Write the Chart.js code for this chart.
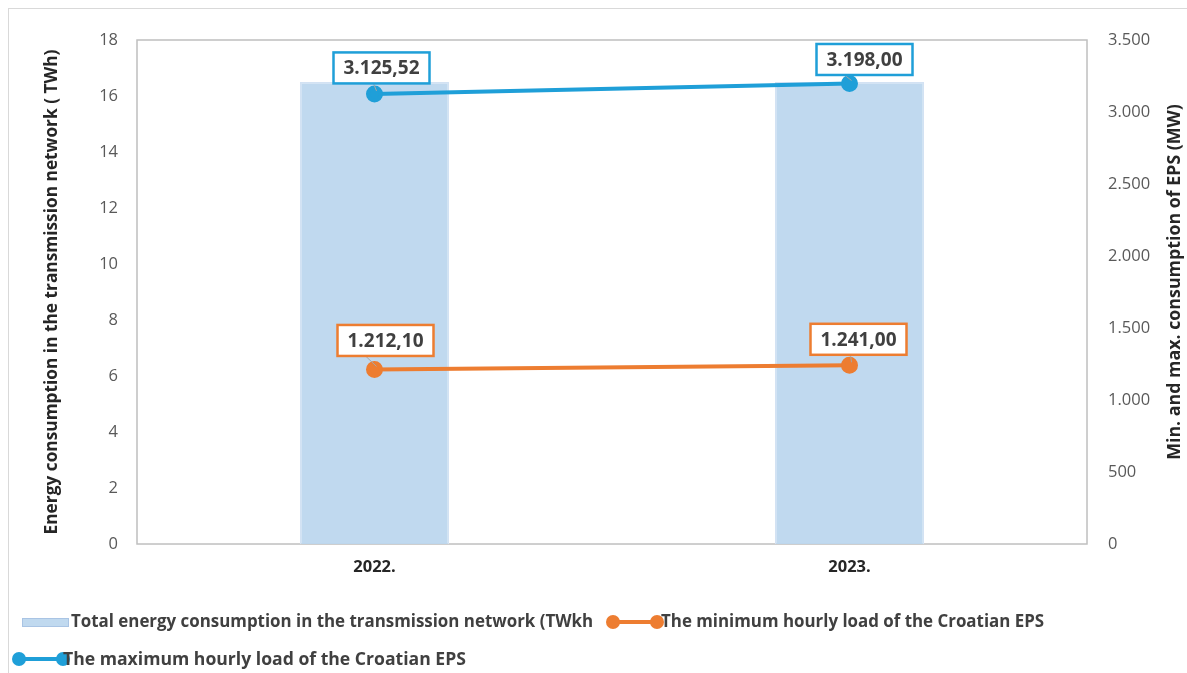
<!DOCTYPE html>
<html>
<head>
<meta charset="utf-8">
<script src="https://cdn.jsdelivr.net/npm/chart.js@4.4.1/dist/chart.umd.min.js"></script>
<style>
  html, body { margin:0; padding:0; background:#fff; }
  #wrap { position:relative; width:1187px; height:673px; overflow:hidden; }
  #frame { position:absolute; left:8px; top:8px; width:1200px; height:700px; border:1px solid #d9d9d9; box-sizing:border-box; }
  canvas { position:absolute; left:0; top:0; }
  .leg { position:absolute; font-family:"Open Sans", sans-serif; font-weight:bold; font-size:16.9px; color:#404040; white-space:nowrap; line-height:22px; }
  .sw { position:absolute; }
</style>
</head>
<body>
<div id="wrap">
  <div id="frame"></div>
  <canvas id="c" width="1187" height="673"></canvas>
  <div id="legend"></div>
</div>
<script>
const categories = ["2022.", "2023."];
const totalEnergy = [16.5, 16.5];
const minLoad = [1212.10, 1241.00];
const maxLoad = [3125.52, 3198.00];
const leftTicks = [0, 2, 4, 6, 8, 10, 12, 14, 16, 18];
const rightTicks = [0, 500, 1000, 1500, 2000, 2500, 3000, 3500];
const seriesNames = [
  "Total energy consumption in the transmission network (TWkh",
  "The minimum hourly load of the Croatian EPS",
  "The maximum hourly load of the Croatian EPS"
];
const leftTitle = "Energy consumption in the transmission network ( TWh)";
const rightTitle = "Min. and max. consumption of EPS (MW)";

const BLUE = "#1f9fd8", ORANGE = "#ed7d31", BAR = "rgba(189,215,238,0.95)";
const FONT = '"Open Sans", sans-serif';

function fmt(v, dec) {
  const s = v.toFixed(dec);
  let [i, d] = s.split(".");
  i = i.replace(/\B(?=(\d{3})+(?!\d))/g, ".");
  return d ? i + "," + d : i;
}

const plotBorder = {
  id: "plotBorder",
  beforeDatasetsDraw(chart) {
    const a = chart.chartArea, ctx = chart.ctx;
    ctx.save();
    ctx.strokeStyle = "#bfbfbf";
    ctx.lineWidth = 1.5;
    ctx.strokeRect(a.left, a.top, a.right - a.left, a.bottom - a.top);
    ctx.restore();
  }
};

const axisTitles = {
  id: "axisTitles",
  afterDraw(chart) {
    const a = chart.chartArea, ctx = chart.ctx;
    const cy = (a.top + a.bottom) / 2;
    ctx.save();
    ctx.fillStyle = "#262626";
    ctx.textAlign = "center";
    ctx.textBaseline = "middle";
    ctx.font = "bold 17.3px " + FONT;
    ctx.translate(a.left - 85, cy);
    ctx.rotate(-Math.PI / 2);
    ctx.fillText(leftTitle, 0, 0);
    ctx.restore();
    ctx.save();
    ctx.fillStyle = "#262626";
    ctx.textAlign = "center";
    ctx.textBaseline = "middle";
    ctx.font = "bold 17.8px " + FONT;
    ctx.translate(a.right + 88, cy - 10);
    ctx.rotate(-Math.PI / 2);
    ctx.fillText(rightTitle, 0, 0);
    ctx.restore();
  }
};

const labelOffsets = { 1: [[11, -29], [9, -26]], 2: [[7, -26], [15, -24]] };
const boxLabels = {
  id: "boxLabels",
  afterDatasetsDraw(chart) {
    const ctx = chart.ctx;
    ctx.save();
    ctx.font = "bold 19px " + FONT;
    ctx.textAlign = "center";
    ctx.textBaseline = "middle";
    [1, 2].forEach(di => {
      const ds = chart.data.datasets[di];
      const meta = chart.getDatasetMeta(di);
      meta.data.forEach((pt, i) => {
        const txt = fmt(ds.data[i], 2);
        const [dx, dy] = labelOffsets[di][i];
        const cx = pt.x + dx, cy = pt.y + dy;
        const w = Math.max(96, ctx.measureText(txt).width + 12), h = 31;
        ctx.strokeStyle = "#a6a6a6";
        ctx.lineWidth = 1;
        ctx.beginPath();
        ctx.moveTo(pt.x + 2, pt.y - 3);
        ctx.lineTo(cx + (dx > 10 ? -20 : -8), cy + h / 2);
        ctx.stroke();
        ctx.fillStyle = "#fff";
        ctx.fillRect(cx - w / 2, cy - h / 2, w, h);
        ctx.lineWidth = 2.5;
        ctx.strokeStyle = ds.borderColor;
        ctx.strokeRect(cx - w / 2, cy - h / 2, w, h);
        ctx.fillStyle = "#404040";
        ctx.fillText(txt, cx, cy + 1);
      });
    });
    ctx.restore();
  }
};

new Chart(document.getElementById("c"), {
  type: "bar",
  data: {
    labels: categories,
    datasets: [
      {
        type: "bar", label: seriesNames[0], data: totalEnergy, yAxisID: "y",
        backgroundColor: BAR, borderColor: "#d3e2f3", borderWidth: 1.5,
        categoryPercentage: 0.314, barPercentage: 1, order: 3
      },
      {
        type: "line", label: seriesNames[1], data: minLoad, yAxisID: "y1",
        borderColor: ORANGE, backgroundColor: ORANGE, borderWidth: 4,
        pointRadius: 6.5, pointHoverRadius: 6.5, order: 1
      },
      {
        type: "line", label: seriesNames[2], data: maxLoad, yAxisID: "y1",
        borderColor: BLUE, backgroundColor: BLUE, borderWidth: 4,
        pointRadius: 6.5, pointHoverRadius: 6.5, order: 2
      }
    ]
  },
  options: {
    responsive: false,
    animation: false,
    devicePixelRatio: 1,
    layout: { padding: { top: 40, left: 0, right: 0, bottom: 0 } },
    plugins: { legend: { display: false }, tooltip: { enabled: false } },
    scales: {
      x: {
        grid: { display: false },
        border: { display: false },
        ticks: { color: "#262626", font: { family: FONT, size: 16.5, weight: "bold" }, padding: 5 },
        afterFit(s) { s.height = 129; }
      },
      y: {
        position: "left", min: 0, max: 18,
        afterBuildTicks(s) { s.ticks = leftTicks.map(v => ({ value: v })); },
        grid: { display: false },
        border: { display: false },
        ticks: { color: "#595959", font: { family: FONT, size: 16.5 }, padding: 11 },
        afterFit(s) { s.width = 137; }
      },
      y1: {
        position: "right", min: 0, max: 3500,
        afterBuildTicks(s) { s.ticks = rightTicks.map(v => ({ value: v })); },
        grid: { display: false },
        border: { display: false },
        ticks: {
          color: "#595959", font: { family: FONT, size: 16.5 }, padding: 13,
          callback: v => fmt(v, 0)
        },
        afterFit(s) { s.width = 100; }
      }
    }
  },
  plugins: [plotBorder, axisTitles, boxLabels]
});

const leg = document.getElementById("legend");
function addItem(kind, color, swX, txtX, y, text, size) {
  if (kind === "bar") {
    const r = document.createElement("div");
    r.className = "sw";
    r.style.cssText = `left:${swX}px;top:${y - 4}px;width:47px;height:9px;background:${BAR};border:1px solid #a9c4e4;box-sizing:border-box;`;
    leg.appendChild(r);
  } else {
    const l = document.createElement("div");
    l.className = "sw";
    l.style.cssText = `left:${swX + 6}px;top:${y - 2}px;width:44px;height:4px;background:${color};`;
    leg.appendChild(l);
    [swX, swX + 44].forEach(x => {
      const d = document.createElement("div");
      d.className = "sw";
      d.style.cssText = `left:${x}px;top:${y - 7}px;width:14px;height:14px;border-radius:50%;background:${color};`;
      leg.appendChild(d);
    });
  }
  const t = document.createElement("div");
  t.className = "leg";
  t.style.left = txtX + "px";
  t.style.top = (y - 12) + "px";
  if (size) t.style.fontSize = size + "px";
  t.textContent = text;
  leg.appendChild(t);
}
addItem("bar", BAR, 22, 71, 622, seriesNames[0]);
addItem("line", ORANGE, 606, 661, 622, seriesNames[1]);
addItem("line", BLUE, 12, 63, 659, seriesNames[2], 17.6);
</script>
</body>
</html>
